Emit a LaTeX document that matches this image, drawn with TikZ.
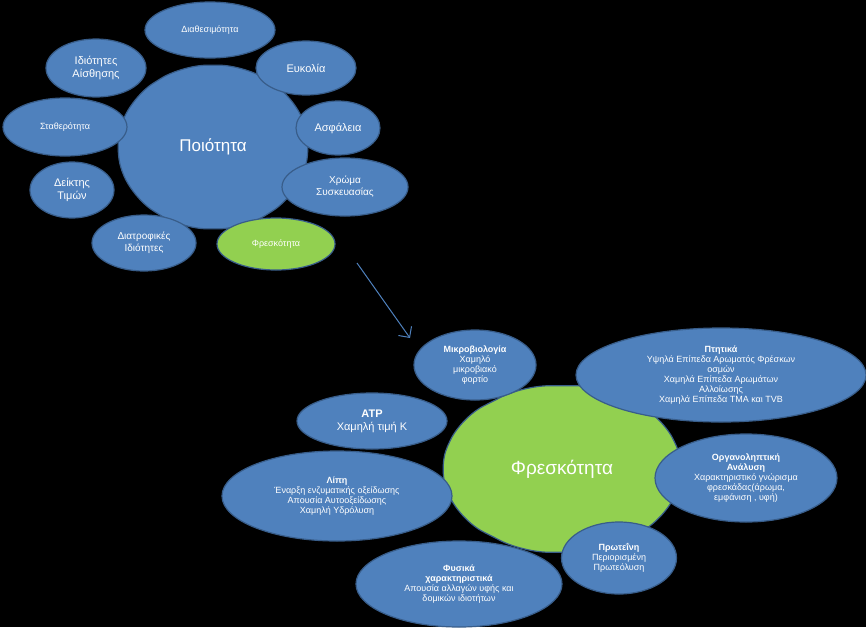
\documentclass[tikz,border=0pt]{standalone}
\usepackage{fontspec}
\setmainfont{Liberation Sans}
\usetikzlibrary{shapes.geometric,arrows.meta}
\definecolor{bl}{HTML}{4F81BD}
\definecolor{bd}{HTML}{385D8A}
\definecolor{gr}{HTML}{92D050}
\begin{document}
\begin{tikzpicture}[x=1pt,y=-1pt,
 bub/.style={ellipse,fill=bl,draw=bd,line width=1.2pt,text=white,align=center,inner sep=0pt,font=\fontsize{9}{10}\selectfont},
 gbub/.style={bub,fill=gr},
 hub/.style={regular polygon,regular polygon sides=10,rounded corners=25pt,draw=bd,line width=1.2pt,text=white,inner sep=0pt}]
\fill[black] (0,0) rectangle (866,627);
\useasboundingbox (0,0) rectangle (866,627);
% top cluster
\node[hub,fill=bl,minimum size=200pt,yscale=0.86] (q) at (213,147) {};
\node[text=white,font=\fontsize{17}{20}\selectfont] (qt) at (213,147) {Ποιότητα};
\node[bub,minimum width=130pt,minimum height=56pt] (d) at (210,30) {Διαθεσιμότητα};
\node[bub,minimum width=100pt,minimum height=54pt,font=\fontsize{11}{12}\selectfont] (e) at (306,68) {Ευκολία};
\node[bub,minimum width=100pt,minimum height=58pt,font=\fontsize{11}{13}\selectfont] (i) at (96,68) {Ιδιότητες\\Αίσθησης};
\node[bub,minimum width=124pt,minimum height=58pt] (s) at (65,127) {Σταθερότητα};
\node[bub,minimum width=84pt,minimum height=54pt,font=\fontsize{11}{12}\selectfont] (a) at (338,128) {Ασφάλεια};
\node[bub,minimum width=84pt,minimum height=56pt,font=\fontsize{11}{13}\selectfont] (t) at (72,190) {Δείκτης\\Τιμών};
\node[bub,minimum width=126pt,minimum height=58pt,font=\fontsize{10}{12}\selectfont] (c) at (345,187) {Χρώμα\\Συσκευασίας};
\node[bub,minimum width=104pt,minimum height=56pt,font=\fontsize{10}{12}\selectfont] (dt) at (144,243) {Διατροφικές\\Ιδιότητες};
\node[gbub,minimum width=118pt,minimum height=52pt] (f) at (276,244) {Φρεσκότητα};
% bottom cluster
\node[hub,fill=gr,minimum size=250pt,yscale=0.7] (F) at (562,469) {};
\node[text=white,font=\fontsize{19}{22}\selectfont] (Ft) at (562,469) {Φρεσκότητα};
\coordinate (tip) at (410,338);
\coordinate (tail) at (357,263);
\draw[-{Straight Barb[length=8pt]},bl,line width=1pt] (tail) -- (tip);
\node[bub,minimum width=122pt,minimum height=70pt] (m) at (475,365) {\textbf{Μικροβιολογία}\\Χαμηλό\\μικροβιακό\\φορτίο};
\node[bub,minimum width=290pt,minimum height=94pt] (p) at (721,375) {\textbf{Πτητικά}\\Υψηλά Επίπεδα Αρωματός Φρέσκων\\οσμών\\Χαμηλά Επίπεδα Αρωμάτων\\Αλλοίωσης\\Χαμηλά Επίπεδα TMA και TVB};
\node[bub,minimum width=150pt,minimum height=56pt,font=\fontsize{11}{13}\selectfont] (atp) at (372,421) {\textbf{ATP}\\Χαμηλή τιμή K};
\node[bub,minimum width=182pt,minimum height=88pt] (o) at (746,478) {\textbf{Οργανοληπτική}\\\textbf{Ανάλυση}\\Χαρακτηριστικό γνώρισμα\\φρεσκάδας(άρωμα,\\εμφάνιση , υφή)};
\node[bub,minimum width=230pt,minimum height=90pt] (l) at (337,496) {\textbf{Λίπη}\\Έναρξη ενζυματικής οξείδωσης\\Απουσία Αυτοοξείδωσης\\Χαμηλή Υδρόλυση};
\node[bub,minimum width=115pt,minimum height=72pt] (pr) at (619,558) {\textbf{Πρωτεΐνη}\\Περιορισμένη\\Πρωτεόλυση};
\node[bub,minimum width=206pt,minimum height=86pt] (ph) at (459,584) {\textbf{Φυσικά}\\\textbf{χαρακτηριστικά}\\Απουσία αλλαγών υφής και\\δομικών ιδιοτήτων};
\end{tikzpicture}
\end{document}
